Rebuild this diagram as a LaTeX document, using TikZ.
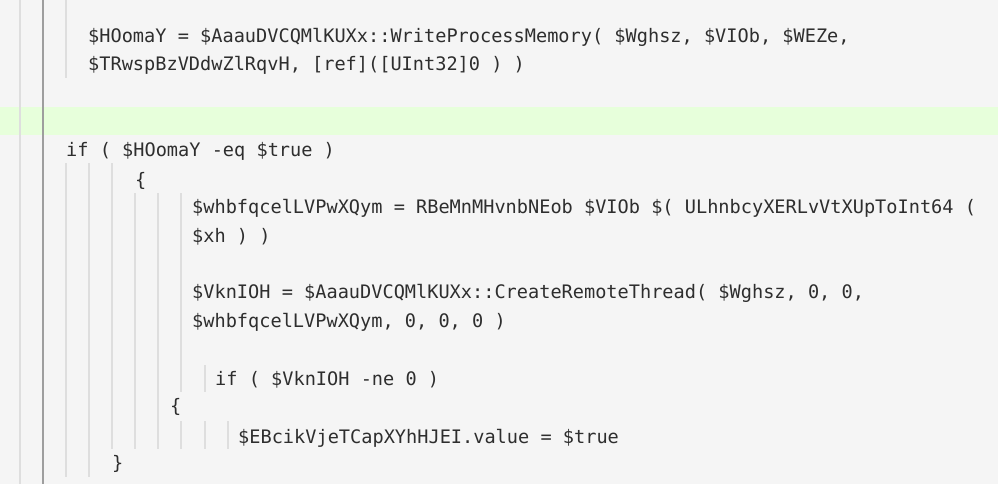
\documentclass[tikz,border=0pt]{standalone}
\usepackage{fontspec}
\setmonofont{DejaVu Sans Mono}
\begin{document}
\begin{tikzpicture}[x=1pt,y=-1pt,
  code/.style={anchor=base west,inner sep=0pt,font=\ttfamily\fontsize{18.6}{20}\selectfont,text=black!82},
  guide/.style={draw=black!13,line width=1.2pt}]
\useasboundingbox (0,0) rectangle (998,484);
\fill[black!4] (0,0) rectangle (998,484);
\fill[green!55!lime!14] (0,107) rectangle (998,135);
\draw[guide] (20,0) -- (20,484);
\draw[draw=black!38,line width=1.5pt] (43,0) -- (43,484);
\draw[guide] (66,0) -- (66,78);
\draw[guide] (66,163) -- (66,477);
\draw[guide] (89,163) -- (89,477);
\draw[guide] (112,163) -- (112,449);
\draw[guide] (135,193) -- (135,449);
\draw[guide] (158,193) -- (158,449);
\draw[guide] (181,193) -- (181,392);
\draw[guide] (181,421) -- (181,449);
\draw[guide] (205,365) -- (205,392);
\draw[guide] (205,421) -- (205,449);
\draw[guide] (228,421) -- (228,449);
\node[code] (l1) at (88,43) {\$HOomaY = \$AaauDVCQMlKUXx::WriteProcessMemory( \$Wghsz, \$VIOb, \$WEZe,};
\node[code] (l2) at (88,71) {\$TRwspBzVDdwZlRqvH, [ref]([UInt32]0 ) )};
\node[code] (l3) at (66,157) {if ( \$HOomaY -eq \$true )};
\node[code] (l4) at (135,186) {\{};
\node[code] (l5) at (192,213) {\$whbfqcelLVPwXQym = RBeMnMHvnbNEob \$VIOb \$( ULhnbcyXERLvVtXUpToInt64 (};
\node[code] (l6) at (192,242) {\$xh ) )};
\node[code] (l7) at (192,298) {\$VknIOH = \$AaauDVCQMlKUXx::CreateRemoteThread( \$Wghsz, 0, 0,};
\node[code] (l8) at (192,327) {\$whbfqcelLVPwXQym, 0, 0, 0 )};
\node[code] (l9) at (215,385) {if ( \$VknIOH -ne 0 )};
\node[code] (l10) at (170,412) {\{};
\node[code] (l11) at (238,443) {\$EBcikVjeTCapXYhHJEI.value = \$true};
\node[code] (l12) at (112,469) {\}};
\end{tikzpicture}
\end{document}
